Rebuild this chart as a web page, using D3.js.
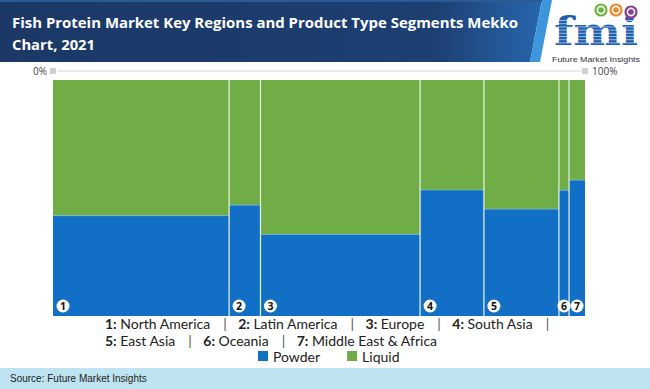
<!DOCTYPE html>
<html><head><meta charset="utf-8">
<script src="https://cdn.jsdelivr.net/npm/d3@7"></script>
<style>
html,body{margin:0;padding:0;background:#fff;}
svg{display:block;}
</style></head>
<body>
<svg id="chart" width="650" height="389"></svg>
<script>
// ---- data ----
const regions = ["North America","Latin America","Europe","South Asia","East Asia","Oceania","Middle East & Africa"];
const regionShare = [33.1, 5.9, 30.0, 12.0, 14.1, 1.9, 3.0];      // % of market (column width)
const powderShare = [42.5, 47.0, 34.6, 53.4, 45.3, 53.3, 57.6];   // % powder within region
const liquidShare = powderShare.map(v => 100 - v);
const seriesNames = ["Powder","Liquid"];
const axisLabels = ["0%","100%"];
const titleLines = ["Fish Protein Market Key Regions and Product Type Segments Mekko","Chart, 2021"];
const sourceText = "Source: Future Market Insights";

(function(){
const colors = {Powder:"#1170c6", Liquid:"#70ad47"};
const svg = d3.select("#chart");
const W = 650, H = 389;

// ---- header ----
const defs = svg.append("defs");
const g1 = defs.append("linearGradient").attr("id","hdr").attr("x1","0").attr("x2","1");
g1.append("stop").attr("offset","0").attr("stop-color","#1b3866");
g1.append("stop").attr("offset","0.8").attr("stop-color","#1d3f72");
g1.append("stop").attr("offset","1").attr("stop-color","#2766ad");
svg.append("path").attr("d","M0,0 L542,0 L530,62 L0,62 Z").attr("fill","url(#hdr)");
svg.append("path").attr("d","M542,0 L552,0 L540,62 L530,62 Z").attr("fill","#3d95dc");
svg.append("rect").attr("x",0).attr("y",0).attr("width",542).attr("height",2).attr("fill","#2c5a94");

const tg = svg.append("g").attr("font-family","'Open Sans', sans-serif").attr("font-weight","bold").attr("fill","#fff").attr("font-size",15);
tg.append("text").attr("x",12).attr("y",28).attr("textLength",506).attr("lengthAdjust","spacingAndGlyphs").text(titleLines[0]);
tg.append("text").attr("x",12).attr("y",50).attr("textLength",83).attr("lengthAdjust","spacingAndGlyphs").text(titleLines[1]);

// logo
const lg = svg.append("g");
lg.append("text").attr("x",596).attr("y",45).attr("text-anchor","middle")
  .attr("font-family","'DejaVu Serif', serif").attr("font-weight","bold").attr("font-size",40)
  .attr("fill","#1f5fae").attr("textLength",84).attr("lengthAdjust","spacingAndGlyphs").text("fmi");
for (let yy = 20; yy < 46; yy += 3.2) {
  lg.append("rect").attr("x",553).attr("y",yy).attr("width",88).attr("height",1).attr("fill","#fff").attr("opacity",0.55);
}
[["#6cb33f",601,10],["#e9892e",616,10],["#8d3c8f",631,12]].forEach(([c,cx,cy])=>{
  lg.append("circle").attr("cx",cx).attr("cy",cy).attr("r",5.5).attr("fill","#fff").attr("stroke",c).attr("stroke-width",2.2);
  lg.append("circle").attr("cx",cx).attr("cy",cy).attr("r",2.8).attr("fill",c);
});
lg.append("text").attr("x",596).attr("y",62).attr("text-anchor","middle").attr("font-family","'Liberation Sans Narrow','Liberation Sans',sans-serif")
  .attr("font-size",8).attr("fill","#333").attr("textLength",88).attr("lengthAdjust","spacingAndGlyphs").text("Future Market Insights");

// ---- chart ----
const pl = 53, pr = 585, pt = 80, pb = 316;
const y = d3.scaleLinear().domain([0,100]).range([pb,pt]);

// columns
let cum = 0;
const cols = regions.map((r,i)=>{ const c = {i, name:r, x0:cum, x1:cum+regionShare[i], p:powderShare[i], l:liquidShare[i]}; cum += regionShare[i]; return c; });
const scaleX = d3.scaleLinear().domain([0,cum]).range([pl,pr]);

// top axis
const axY = 71;
svg.append("line").attr("x1",scaleX(0)+4).attr("x2",scaleX(cum)-4).attr("y1",axY).attr("y2",axY).attr("stroke","#d4d4d4").attr("stroke-width",1);
[0,cum].forEach(v=>{
  svg.append("rect").attr("x",scaleX(v)-3).attr("y",axY-3).attr("width",6).attr("height",6).attr("fill","#d0d0d0");
});
svg.append("text").attr("x",scaleX(0)-6).attr("y",axY+4).attr("text-anchor","end").attr("font-family","'Open Sans',sans-serif").attr("font-size",10).attr("fill","#444").text(axisLabels[0]);
svg.append("text").attr("x",scaleX(cum)+7).attr("y",axY+4).attr("text-anchor","start").attr("font-family","'Open Sans',sans-serif").attr("font-size",10).attr("fill","#444").text(axisLabels[1]);

const cg = svg.append("g");
cols.forEach(c=>{
  const x0 = scaleX(c.x0), x1 = scaleX(c.x1);
  cg.append("rect").attr("x",x0).attr("width",x1-x0).attr("y",y(100)).attr("height",y(c.p)-y(100)).attr("fill",colors.Liquid);
  cg.append("rect").attr("x",x0).attr("width",x1-x0).attr("y",y(c.p)).attr("height",y(0)-y(c.p)).attr("fill",colors.Powder);
  cg.append("line").attr("x1",x0).attr("x2",x1).attr("y1",y(c.p)).attr("y2",y(c.p)).attr("stroke","#8fc3e8").attr("stroke-width",0.8).attr("opacity",0.7);
});
cols.forEach((c,k)=>{
  if (k===0) return;
  const xx = scaleX(c.x0);
  cg.append("line").attr("x1",xx).attr("x2",xx).attr("y1",pt).attr("y2",pb).attr("stroke","#e8f4e0").attr("stroke-width",1.2);
});
// number badges
cols.forEach(c=>{
  const x0 = scaleX(c.x0), x1 = scaleX(c.x1);
  const cx = x0 + Math.min(10, (x1-x0)/2);
  cg.append("circle").attr("cx",cx).attr("cy",306).attr("r",6.5).attr("fill","#fff");
  cg.append("text").attr("x",cx).attr("y",310).attr("text-anchor","middle").attr("font-family","'Open Sans',sans-serif").attr("font-weight","bold").attr("font-size",10.5).attr("fill","#111").text(c.i+1);
});

// region key
const keyG = svg.append("g").attr("font-family","Lato, sans-serif").attr("font-size",14).attr("fill","#222");
const lines = [[0,1,2,3],[4,5,6]];
const lineY = [329, 346];
lines.forEach((idxs,li)=>{
  let xx = 105;
  idxs.forEach((ri,k)=>{
    const t = keyG.append("text").attr("x",xx).attr("y",lineY[li]);
    t.append("tspan").attr("font-weight","bold").text((ri+1)+":");
    t.append("tspan").attr("dx",3.5).text(regions[ri]);
    xx += t.node().getBBox().width + 13;
    const last = (li===1 && k===idxs.length-1);
    if (!last) {
      keyG.append("text").attr("x",xx).attr("y",lineY[li]).attr("fill","#555").text("|");
      xx += 15;
    }
  });
});

// legend
const legG = svg.append("g").attr("font-family","Lato, sans-serif").attr("font-size",14).attr("fill","#222");
let lx = 258;
seriesNames.forEach(s=>{
  legG.append("rect").attr("x",lx).attr("y",351).attr("width",10).attr("height",10).attr("fill",colors[s]);
  const t = legG.append("text").attr("x",lx+15).attr("y",362).text(s);
  lx += 15 + t.node().getComputedTextLength() + 27;
});

// source band
svg.append("rect").attr("x",0).attr("y",368).attr("width",W).attr("height",H-368).attr("fill","#bfe4f1");
svg.append("text").attr("x",10).attr("y",382).attr("font-family","'Liberation Sans Narrow','Liberation Sans',sans-serif").attr("font-size",10).attr("fill","#222").text(sourceText);
})();
</script>
</body></html>
